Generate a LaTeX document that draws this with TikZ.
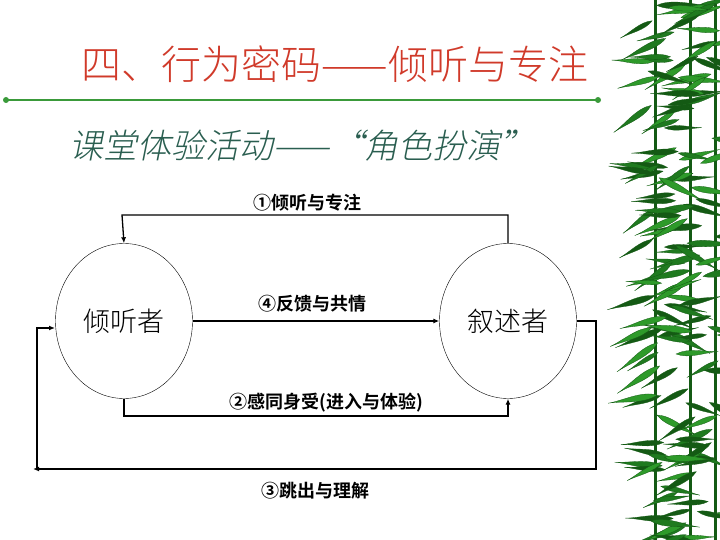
\documentclass[tikz,border=0pt]{standalone}
\usepackage{fontspec}
\newfontfamily\cjk{Noto Sans CJK SC}
\newfontfamily\cjklt{Noto Sans CJK SC Light}
\newfontfamily\cjkit[FakeSlant=0.2]{Noto Sans CJK SC Light}
\newfontfamily\cjkb{Noto Sans CJK SC Bold}
\usetikzlibrary{arrows.meta,shapes.geometric}
\definecolor{titlered}{HTML}{D03A2A}
\definecolor{subgreen}{HTML}{2A5E50}
\definecolor{lineg}{HTML}{3A9A3A}
\definecolor{leafA}{HTML}{1F7A1F}
\definecolor{leafB}{HTML}{2E9A2A}
\definecolor{leafC}{HTML}{145A14}
\tikzset{
  person/.style={draw,thin,ellipse,inner sep=0pt,minimum width=137pt,minimum height=155pt,font=\cjklt\fontsize{27}{27}\selectfont},
  conn/.style={line width=1.3pt,-{Latex[length=6pt,width=5pt]}},
  lab/.style={font=\cjkb\fontsize{18}{18}\selectfont},
  leaf/.style={draw=leafC,line width=0.3pt}
}
\begin{document}
\begin{tikzpicture}[x=1pt,y=-1pt]
\useasboundingbox (0,0) rectangle (720,540);
% bamboo decoration
\pgfmathsetseed{7}
\foreach \x in {655,690,715}{\draw[leafC,line width=3pt] (\x,0) -- (\x,540);}
\foreach \i in {1,...,150}{
  \pgfmathsetmacro{\x}{648+rnd*72}
  \pgfmathsetmacro{\y}{rnd*545}
  \pgfmathsetmacro{\a}{rnd<0.6 ? 180+rnd*50-10 : -30+rnd*50}
  \pgfmathsetmacro{\l}{35+rnd*18}
  \pgfmathsetmacro{\s}{rnd}
  \pgfmathsetmacro{\c}{\s<0.33 ? "leafA" : (\s<0.66 ? "leafB" : "leafC")}
  \fill[\c,leaf,rotate around={\a:(\x,\y)}] (\x,\y) .. controls +(\l*0.3,-\l*0.14) and +(-\l*0.3,0) .. +(\l,0) .. controls +(-\l*0.3,0) and +(\l*0.3,\l*0.14) .. (\x,\y) -- cycle;
}
% title
\node[text=titlered,font=\cjklt\fontsize{40}{40}\selectfont] (title) at (335,64) {四、行为密码——倾听与专注};
\coordinate (la) at (6,100); \coordinate (lb) at (598,100);
\draw[lineg,line width=1.5pt] (la) -- (lb);
\fill[lineg] (la) circle (3); \fill[lineg] (lb) circle (3);
\node[text=subgreen,font=\cjkit\fontsize{34}{34}\selectfont] (sub) at (302,146) {课堂体验活动——“角色扮演”};
% persons
\node[person] (L) at (124,321) {倾听者};
\node[person] (R) at (508,321) {叙述者};
\coordinate (t1) at (508,215); \coordinate (t2) at (122,215);
\draw[conn] (R.north) -- (t1) -- (t2) -- (L.north);
\node[lab] (l1) at (307,203) {①倾听与专注};
\draw[conn] (L.east) -- (R.west);
\node[lab] (l4) at (312,304) {④反馈与共情};
\coordinate (b1) at (124,416); \coordinate (b2) at (508,416);
\draw[conn] (L.south) -- (b1) -- (b2) -- (R.south);
\node[lab] (l2) at (326,403) {②感同身受(进入与体验)};
\coordinate (o1) at (596,321); \coordinate (o2) at (596,469); \coordinate (o3) at (33,469);
\coordinate (o4) at (37,469); \coordinate (o5) at (37,328); \coordinate (o6) at (55,328);
\draw[conn] (R.east) -- (o1) -- (o2) -- (o3);
\draw[conn] (o4) -- (o5) -- (o6);
\node[lab] (l3) at (315,491) {③跳出与理解};
\end{tikzpicture}
\end{document}
